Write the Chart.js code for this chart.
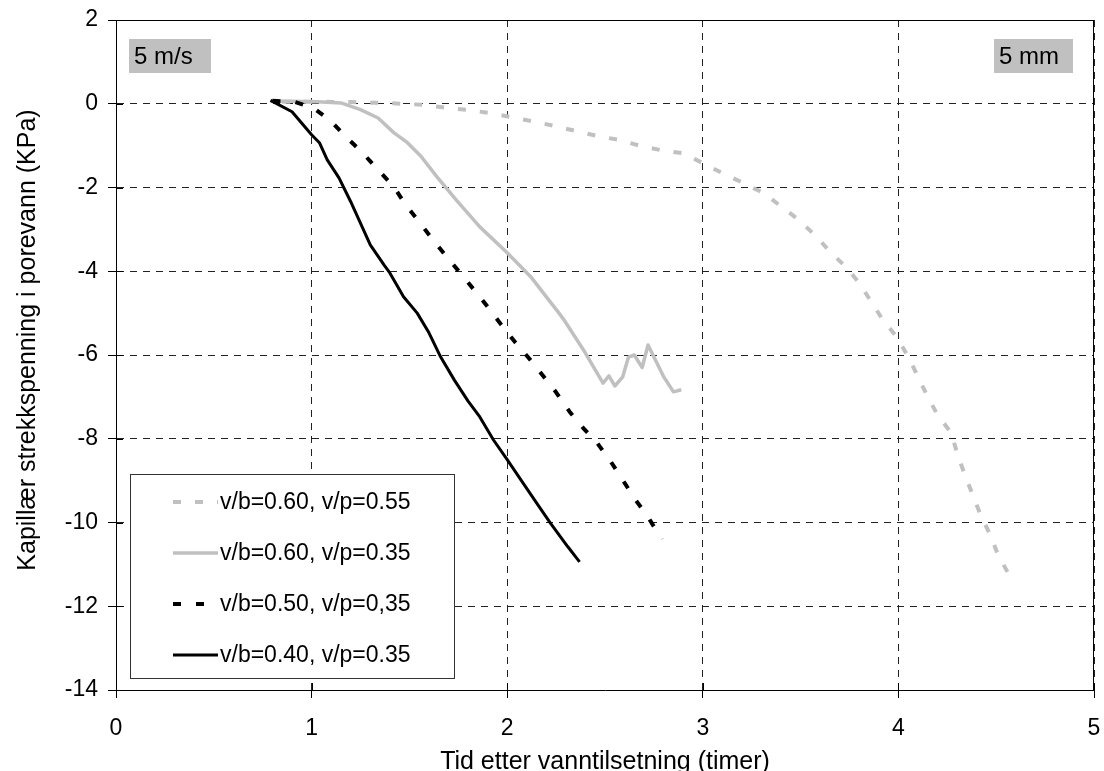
<!DOCTYPE html>
<html>
<head>
<meta charset="utf-8">
<script src="https://cdn.jsdelivr.net/npm/chart.js@4/dist/chart.umd.min.js"></script>
<style>
  html, body { margin: 0; padding: 0; background: #fff; }
  #wrap { width: 1104px; height: 771px; }
</style>
</head>
<body>
<div id="wrap"><canvas id="chart" width="1104" height="771"></canvas></div>
<script>
// time after water addition (hours) and capillary tension (kPa)
const xTicks = [0, 1, 2, 3, 4, 5];
const yTicks = [2, 0, -2, -4, -6, -8, -10, -12, -14];

const seriesLabels = [
  "v/b=0.60, v/p=0.55",
  "v/b=0.60, v/p=0.35",
  "v/b=0.50, v/p=0,35",
  "v/b=0.40, v/p=0.35"
];

const x055 = [0.85, 1.0, 1.2, 1.35, 1.47, 1.58, 1.69, 1.80, 1.91, 2.02, 2.13, 2.25, 2.36, 2.47, 2.58, 2.69, 2.8, 2.9,
  3.0, 3.11, 3.21, 3.31, 3.40, 3.49, 3.58, 3.65, 3.73, 3.80, 3.86, 3.92, 3.99, 4.05, 4.10, 4.15, 4.20, 4.27, 4.30,
  4.34, 4.38, 4.42, 4.47, 4.51, 4.56];
const y055 = [0.05, 0.05, 0.04, 0.02, 0.0, -0.03, -0.1, -0.15, -0.22, -0.32, -0.42, -0.54, -0.66, -0.78, -0.87, -1.02,
  -1.12, -1.18, -1.42, -1.68, -1.9, -2.13, -2.45, -2.77, -3.17, -3.53, -3.89, -4.28, -4.72, -5.16, -5.56, -6.04,
  -6.52, -7.0, -7.43, -7.86, -8.34, -8.87, -9.34, -9.82, -10.3, -10.78, -11.2];

const x060 = [0.79, 0.9, 1.03, 1.15, 1.25, 1.34, 1.42, 1.49, 1.56, 1.64, 1.74, 1.86, 2.0, 2.12, 2.22, 2.26, 2.29,
  2.39, 2.49, 2.52, 2.55, 2.59, 2.62, 2.65, 2.69, 2.72, 2.80, 2.85, 2.89];
const y060 = [0.06, 0.06, 0.05, 0.02, -0.14, -0.34, -0.69, -0.93, -1.26, -1.74, -2.3, -2.94, -3.56, -4.13, -4.73,
  -4.97, -5.16, -5.88, -6.67, -6.5, -6.74, -6.53, -6.05, -6.0, -6.3, -5.76, -6.52, -6.88, -6.83];

const x050 = [0.8, 0.91, 1.01, 1.10, 1.18, 1.26, 1.34, 1.42, 1.48, 1.55, 1.62, 1.69, 1.76, 1.83, 1.90, 1.97, 2.04,
  2.11, 2.18, 2.25, 2.32, 2.39, 2.46, 2.53, 2.59, 2.65, 2.72, 2.79];
const y050 = [0.07, 0.05, -0.1, -0.42, -0.81, -1.17, -1.58, -1.98, -2.41, -2.82, -3.25, -3.65, -4.04, -4.44, -4.85,
  -5.28, -5.69, -6.07, -6.48, -6.89, -7.36, -7.75, -8.1, -8.55, -8.98, -9.42, -9.87, -10.4];

const x040 = [0.79, 0.9, 1.0, 1.04, 1.08, 1.14, 1.20, 1.27, 1.30, 1.37, 1.40, 1.47, 1.54, 1.60, 1.66, 1.73, 1.80,
  1.86, 1.93, 2.0, 2.07, 2.15, 2.22, 2.31, 2.37];
const y040 = [0.08, -0.19, -0.74, -0.93, -1.34, -1.77, -2.34, -3.06, -3.37, -3.85, -4.04, -4.61, -5.0, -5.47, -6.05,
  -6.6, -7.1, -7.48, -8.03, -8.5, -8.98, -9.53, -10.01, -10.58, -10.94];

const yTitle = "Kapillær strekkspenning i porevann (KPa)";
const FONT = "'Liberation Sans', Arial, sans-serif";

function pts(xs, ys) {
  return xs.map((x, i) => ({ x: x, y: ys[i] }));
}

// plot frame (top/right solid lines), inner halves of the cross ticks, y title
const framePlugin = {
  id: "frame",
  afterDraw(chart, args, opts) {
    const { ctx, chartArea: a, scales } = chart;
    ctx.save();
    ctx.strokeStyle = "#000";
    ctx.lineWidth = 1;
    ctx.beginPath();
    ctx.moveTo(a.left, Math.round(a.top) + 0.5);
    ctx.lineTo(a.right, Math.round(a.top) + 0.5);
    ctx.moveTo(Math.round(a.right) - 0.5, a.top);
    ctx.lineTo(Math.round(a.right) - 0.5, a.bottom);
    scales.x.ticks.forEach(t => {
      const px = Math.round(scales.x.getPixelForValue(t.value)) + 0.5;
      ctx.moveTo(px, a.bottom);
      ctx.lineTo(px, a.bottom - 7);
    });
    scales.y.ticks.forEach(t => {
      const py = Math.round(scales.y.getPixelForValue(t.value)) + 0.5;
      ctx.moveTo(a.left, py);
      ctx.lineTo(a.left + 7, py);
    });
    ctx.stroke();

    ctx.translate(opts.titleX, opts.titleY);
    ctx.rotate(-Math.PI / 2);
    ctx.font = "25px " + FONT;
    ctx.fillStyle = "#000";
    ctx.textAlign = "center";
    ctx.textBaseline = "middle";
    ctx.fillText(yTitle, 0, 0);
    ctx.restore();
  }
};

// grey label boxes in the corners
const notePlugin = {
  id: "notes",
  afterDraw(chart, args, opts) {
    const ctx = chart.ctx;
    ctx.save();
    ctx.font = "24px " + FONT;
    ctx.textBaseline = "middle";
    opts.items.forEach(n => {
      ctx.fillStyle = "#c0c0c0";
      ctx.fillRect(n.x, n.y, n.w, n.h);
      ctx.fillStyle = "#000";
      ctx.fillText(n.text, n.x + 5, n.y + n.h / 2 + 1);
    });
    ctx.restore();
  }
};

// boxed legend inside the plot, lower left
const legendPlugin = {
  id: "boxLegend",
  afterDraw(chart, args, opts) {
    const ctx = chart.ctx;
    const { x, y, w, h, rowH, firstRow, lineX0, lineX1, textX } = opts;
    ctx.save();
    ctx.fillStyle = "#fff";
    ctx.fillRect(x, y, w, h);
    ctx.strokeStyle = "#333";
    ctx.lineWidth = 1;
    ctx.strokeRect(x + 0.5, y + 0.5, w, h);
    ctx.font = "23px " + FONT;
    ctx.textBaseline = "middle";
    chart.data.datasets.forEach((ds, i) => {
      const ry = y + firstRow + i * rowH;
      ctx.beginPath();
      ctx.strokeStyle = ds.borderColor;
      ctx.lineWidth = ds.borderWidth;
      ctx.setLineDash(ds.borderDash || []);
      ctx.moveTo(lineX0, ry);
      ctx.lineTo(lineX1, ry);
      ctx.stroke();
      ctx.setLineDash([]);
      ctx.fillStyle = "#000";
      ctx.fillText(ds.label, textX, ry + 1);
    });
    ctx.restore();
  }
};

new Chart(document.getElementById("chart"), {
  type: "line",
  data: {
    datasets: [
      { label: seriesLabels[0], data: pts(x055, y055), borderColor: "#c0c0c0", borderWidth: 4, borderDash: [8, 14], order: 3 },
      { label: seriesLabels[1], data: pts(x060, y060), borderColor: "#c0c0c0", borderWidth: 3.5, order: 2 },
      { label: seriesLabels[2], data: pts(x050, y050), borderColor: "#000", borderWidth: 4, borderDash: [8, 15], order: 1 },
      { label: seriesLabels[3], data: pts(x040, y040), borderColor: "#000", borderWidth: 3, order: 0 }
    ]
  },
  options: {
    responsive: false,
    devicePixelRatio: 1,
    animation: false,
    layout: { padding: { left: 0, top: 20, right: 10, bottom: 0 } },
    elements: {
      point: { radius: 0, hoverRadius: 0 },
      line: { tension: 0, fill: false, borderCapStyle: "butt", borderJoinStyle: "round" }
    },
    plugins: {
      legend: { display: false },
      tooltip: { enabled: false },
      frame: { titleX: 28, titleY: 340 },
      notes: {
        items: [
          { text: "5 m/s", x: 129, y: 39, w: 82, h: 34 },
          { text: "5 mm", x: 994, y: 39, w: 79, h: 34 }
        ]
      },
      boxLegend: { x: 130, y: 474, w: 324, h: 204, rowH: 51, firstRow: 28, lineX0: 173, lineX1: 218, textX: 220 }
    },
    scales: {
      x: {
        type: "linear",
        min: 0,
        max: 5,
        afterBuildTicks: s => { s.ticks = xTicks.map(v => ({ value: v })); },
        afterFit: s => { s.height = 81; s.paddingLeft = 0; s.paddingRight = 0; },
        ticks: { color: "#000", font: { family: FONT, size: 23 }, padding: 17, maxRotation: 0 },
        grid: { color: "#222", lineWidth: 1, tickColor: "#000", tickLength: 8 },
        border: { color: "#000", width: 1, dash: [7, 6] },
        title: {
          display: true,
          text: "Tid etter vanntilsetning (timer)",
          color: "#000",
          font: { family: FONT, size: 25 },
          padding: { top: 0, bottom: -6 }
        }
      },
      y: {
        type: "linear",
        min: -14,
        max: 2,
        afterBuildTicks: s => { s.ticks = yTicks.map(v => ({ value: v })); },
        afterFit: s => { s.width = 116; s.paddingTop = 0; s.paddingBottom = 0; },
        ticks: { color: "#000", font: { family: FONT, size: 23 }, padding: 10 },
        grid: { color: "#222", lineWidth: 1, tickColor: "#000", tickLength: 8 },
        border: { color: "#000", width: 1, dash: [7, 6] }
      }
    }
  },
  plugins: [framePlugin, notePlugin, legendPlugin]
});
</script>
</body>
</html>
